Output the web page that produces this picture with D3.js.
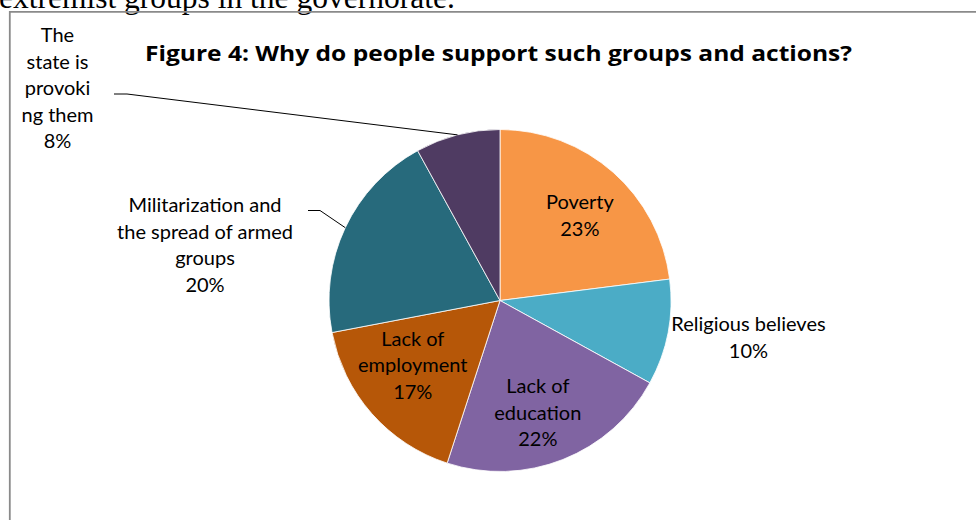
<!DOCTYPE html>
<html>
<head>
<meta charset="utf-8">
<script src="https://cdn.jsdelivr.net/npm/d3@7"></script>
<style>
  html, body { margin: 0; padding: 0; background: #fff; overflow: hidden; }
  svg { display: block; }
</style>
</head>
<body>
<svg id="chart" width="976" height="520"></svg>
<script>
// Reasons people give for supporting armed groups (share of responses, %)
const categories = [
  "Poverty",
  "Religious believes",
  "Lack of education",
  "Lack of employment",
  "Militarization and the spread of armed groups",
  "The state is provoking them"
];
const values = [23, 10, 22, 17, 20, 8];
// Category names as they wrap inside each data label
const labelLines = [
  ["Poverty"],
  ["Religious believes"],
  ["Lack of", "education"],
  ["Lack of", "employment"],
  ["Militarization and", "the spread of armed", "groups"],
  ["The", "state is", "provoki", "ng them"]
];
const colors = ["#F79646", "#4BACC6", "#8064A2", "#B65708", "#276A7C", "#4F3B62"];

const titleText = "Figure 4: Why do people support such groups and actions?";
const pageText = "extremist groups in the governorate.";

const svg = d3.select("#chart");
const labelFont = "Lato, 'Noto Sans', sans-serif";

// Running text of the page above the chart frame
svg.append("text")
  .attr("x", -1).attr("y", 7.5)
  .attr("font-family", "'Liberation Serif', 'Times New Roman', serif")
  .attr("font-size", 31.5)
  .attr("fill", "#000")
  .text(pageText);

// Chart frame (left and top edges are visible)
svg.append("path")
  .attr("d", "M9.8,520 V11.8 H976")
  .attr("fill", "none")
  .attr("stroke", "#8a8a8a")
  .attr("stroke-width", 1.8);

// Title
svg.append("text")
  .attr("x", 498.5).attr("y", 60.5)
  .attr("text-anchor", "middle")
  .attr("font-family", "'Open Sans', Lato, sans-serif")
  .attr("font-weight", 700)
  .attr("font-size", 22)
  .attr("textLength", 707)
  .attr("lengthAdjust", "spacingAndGlyphs")
  .attr("fill", "#000")
  .text(titleText);

// Pie geometry
const cx = 500, cy = 300.5, r = 171;
const pie = d3.pie().sort(null).value(d => d)(values);
const arc = d3.arc().innerRadius(0).outerRadius(r);
const g = svg.append("g").attr("transform", `translate(${cx},${cy})`);

g.selectAll("path.slice")
  .data(pie)
  .join("path")
  .attr("class", "slice")
  .attr("d", arc)
  .attr("fill", (d, i) => colors[i])
  .attr("stroke", "#fff")
  .attr("stroke-width", 0.8);

const mid = d => (d.startAngle + d.endAngle) / 2;
const polar = (a, rad) => [Math.sin(a) * rad, -Math.cos(a) * rad];

const lineH = 26.5;
const fontSize = 20;

function drawLabel(x, yFirst, lines) {
  const t = svg.append("text")
    .attr("font-family", labelFont)
    .attr("font-size", fontSize)
    .attr("fill", "#000")
    .attr("text-anchor", "middle");
  lines.forEach((s, k) => {
    t.append("tspan").attr("x", x).attr("y", yFirst + k * lineH).text(s);
  });
  return t;
}

// Label placement: inside slices along the mid-angle, or outside with leaders
const inside = { 0: [0.68, 3, 2], 2: [0.68, -5, 4], 3: [0.68, 0, -12] };

pie.forEach((d, i) => {
  const lines = labelLines[i].concat([values[i] + "%"]);
  const n = lines.length;
  const a = mid(d);
  if (inside[i]) {
    const [f, dx, dy] = inside[i];
    const [px, py] = polar(a, r * f);
    const ccx = cx + px + dx, ccy = cy + py + dy;
    drawLabel(ccx, ccy + 7 - (n - 1) / 2 * lineH, lines);
  }
});

// Religious believes: label just outside the rim
{
  const d = pie[1];
  const [px, py] = polar(mid(d), r);
  const lines = labelLines[1].concat([values[1] + "%"]);
  drawLabel(cx + px + 80.5, cy + py - 1.5, lines);
}

// Militarization: label to the left, leader line to the rim
{
  const d = pie[4];
  const [px, py] = polar(mid(d), r);
  const lines = labelLines[4].concat([values[4] + "%"]);
  drawLabel(205, 212, lines);
  svg.append("polyline")
    .attr("points", [[308, 210.5], [320, 210.5], [cx + px, cy + py]].map(p => p.join(",")).join(" "))
    .attr("fill", "none").attr("stroke", "#000").attr("stroke-width", 1);
}

// State provocation: label in the top-left corner, leader line to the rim
{
  const d = pie[5];
  const [px, py] = polar(mid(d), r);
  const lines = labelLines[5].concat([values[5] + "%"]);
  drawLabel(57.5, 42, lines);
  svg.append("polyline")
    .attr("points", [[114, 94], [127, 94], [cx + px, cy + py]].map(p => p.join(",")).join(" "))
    .attr("fill", "none").attr("stroke", "#000").attr("stroke-width", 1);
}
</script>
</body>
</html>
